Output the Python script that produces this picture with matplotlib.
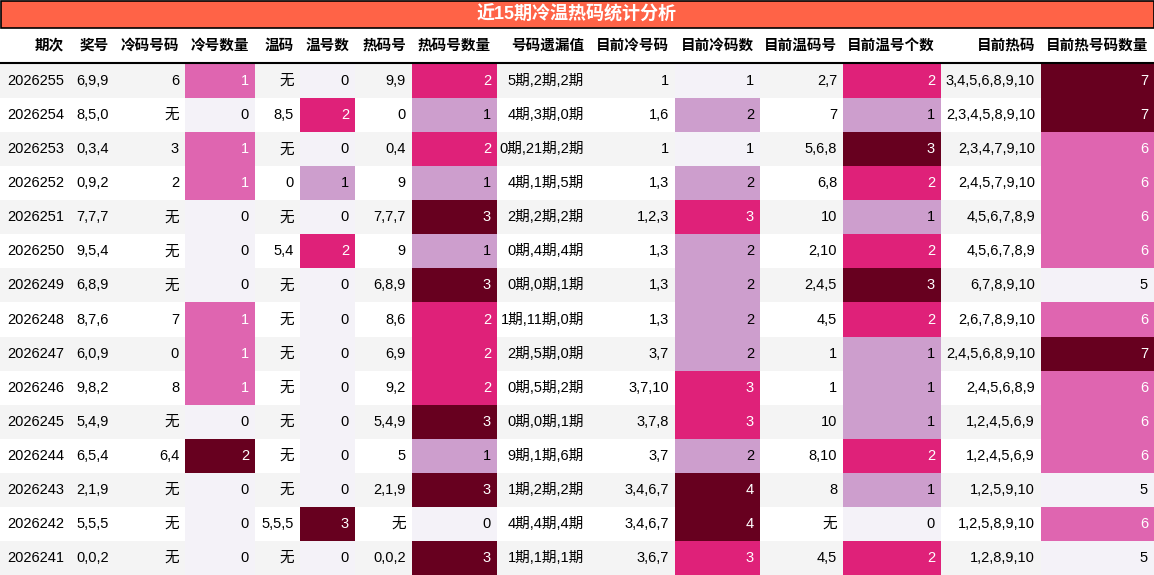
import matplotlib
matplotlib.use("Agg")
import matplotlib.pyplot as plt
from matplotlib.patches import Rectangle

plt.rcParams['font.family'] = ['Liberation Sans', 'Noto Sans CJK SC', 'DejaVu Sans']

title = "近15期冷温热码统计分析"
headers = ["期次", "奖号", "冷码号码", "冷号数量", "温码", "温号数", "热码号", "热码号数量",
           "号码遗漏值", "目前冷号码", "目前冷码数", "目前温码号", "目前温号个数", "目前热码", "目前热号码数量"]

periods = ["2026255", "2026254", "2026253", "2026252", "2026251", "2026250", "2026249", "2026248",
           "2026247", "2026246", "2026245", "2026244", "2026243", "2026242", "2026241"]
draws = ["6,9,9", "8,5,0", "0,3,4", "0,9,2", "7,7,7", "9,5,4", "6,8,9", "8,7,6", "6,0,9", "9,8,2",
         "5,4,9", "6,5,4", "2,1,9", "5,5,5", "0,0,2"]
cold_nums = ["6", "无", "3", "2", "无", "无", "无", "7", "0", "8", "无", "6,4", "无", "无", "无"]
cold_cnt = [1, 0, 1, 1, 0, 0, 0, 1, 1, 1, 0, 2, 0, 0, 0]
warm_nums = ["无", "8,5", "无", "0", "无", "5,4", "无", "无", "无", "无", "无", "无", "无", "5,5,5", "无"]
warm_cnt = [0, 2, 0, 1, 0, 2, 0, 0, 0, 0, 0, 0, 0, 3, 0]
hot_nums = ["9,9", "0", "0,4", "9", "7,7,7", "9", "6,8,9", "8,6", "6,9", "9,2", "5,4,9", "5", "2,1,9", "无", "0,0,2"]
hot_cnt = [2, 1, 2, 1, 3, 1, 3, 2, 2, 2, 3, 1, 3, 0, 3]
miss = ["5期,2期,2期", "4期,3期,0期", "0期,21期,2期", "4期,1期,5期", "2期,2期,2期", "0期,4期,4期",
        "0期,0期,1期", "1期,11期,0期", "2期,5期,0期", "0期,5期,2期", "0期,0期,1期", "9期,1期,6期",
        "1期,2期,2期", "4期,4期,4期", "1期,1期,1期"]
cur_cold = ["1", "1,6", "1", "1,3", "1,2,3", "1,3", "1,3", "1,3", "3,7", "3,7,10", "3,7,8", "3,7",
            "3,4,6,7", "3,4,6,7", "3,6,7"]
cur_cold_cnt = [1, 2, 1, 2, 3, 2, 2, 2, 2, 3, 3, 2, 4, 4, 3]
cur_warm = ["2,7", "7", "5,6,8", "6,8", "10", "2,10", "2,4,5", "4,5", "1", "1", "10", "8,10", "8", "无", "4,5"]
cur_warm_cnt = [2, 1, 3, 2, 1, 2, 3, 2, 1, 1, 1, 2, 1, 0, 2]
cur_hot = ["3,4,5,6,8,9,10", "2,3,4,5,8,9,10", "2,3,4,7,9,10", "2,4,5,7,9,10", "4,5,6,7,8,9",
           "4,5,6,7,8,9", "6,7,8,9,10", "2,6,7,8,9,10", "2,4,5,6,8,9,10", "2,4,5,6,8,9",
           "1,2,4,5,6,9", "1,2,4,5,6,9", "1,2,5,9,10", "1,2,5,8,9,10", "1,2,8,9,10"]
cur_hot_cnt = [7, 7, 6, 6, 6, 6, 5, 6, 7, 6, 6, 6, 5, 6, 5]

columns = [periods, draws, cold_nums, cold_cnt, warm_nums, warm_cnt, hot_nums, hot_cnt, miss,
           cur_cold, cur_cold_cnt, cur_warm, cur_warm_cnt, cur_hot, cur_hot_cnt]
colored = {3, 5, 7, 10, 12, 14}
edges = [0, 70, 115, 185, 255, 300, 355, 412, 497, 590, 675, 760, 843, 941, 1041, 1154]

W, H = 1154, 575
fig = plt.figure(figsize=(W / 100, H / 100), dpi=100)
ax = fig.add_axes([0, 0, 1, 1])
ax.set_xlim(0, W)
ax.set_ylim(H, 0)
ax.axis('off')

LIGHT = "#F4F2F8"
pal = {3: [LIGHT, "#DF65B0", "#67001F"],
       4: [LIGHT, "#CD9ECD", "#DF2179", "#67001F"],
       5: [LIGHT, "#CD9ECD", "#DF65B0", "#DF2179", "#67001F"]}
white_text = {"#DF65B0", "#DF2179", "#67001F"}

# title
ax.add_patch(Rectangle((0.5, 0.5), W - 1, 27, facecolor="#FF6347", edgecolor="black", lw=1.2))
ax.text(W / 2, 14.5, title, ha='center', va='center', color='white', fontsize=13, fontweight='bold')

# header
hy0, hy1 = 28, 63
for j, h in enumerate(headers):
    ax.text(edges[j + 1] - 6, (hy0 + hy1) / 2, h, ha='right', va='center', fontsize=10.5, fontweight='bold')
ax.plot([0, W], [hy1, hy1], color='black', lw=1.5)

rh = (H - 64) / 15
for i in range(15):
    y0 = 64 + i * rh
    ax.add_patch(Rectangle((0, y0), W, rh, facecolor="#F4F4F4" if i % 2 == 0 else "white", lw=0))
    for j, col in enumerate(columns):
        val = col[i]
        tc = "black"
        if j in colored:
            lo, hi = min(col), max(col)
            p = pal[hi - lo + 1]
            c = p[val - lo]
            ax.add_patch(Rectangle((edges[j], y0), edges[j + 1] - edges[j], rh, facecolor=c, lw=0))
            if c in white_text:
                tc = "white"
        ax.text(edges[j + 1] - 6, y0 + rh / 2, str(val), ha='right', va='center', fontsize=10.5, color=tc)

fig.savefig("out.png", dpi=100)
